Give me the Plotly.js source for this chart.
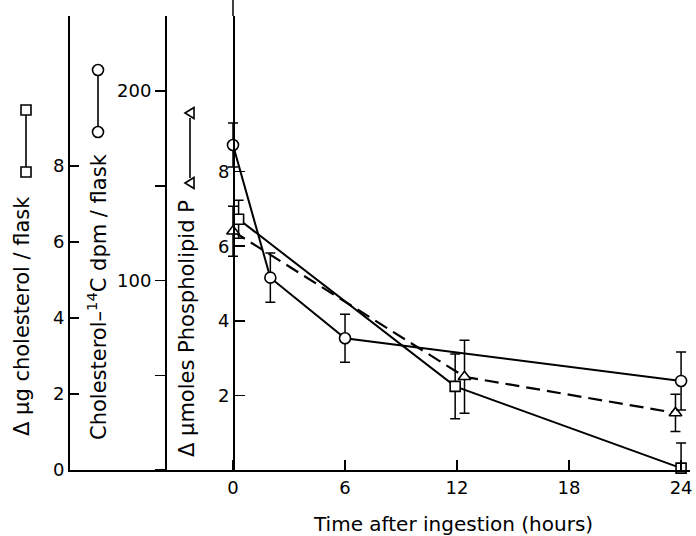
<!DOCTYPE html>
<html>
<head>
<meta charset="utf-8">
<script src="https://cdn.plot.ly/plotly-3.0.1.min.js"></script>
<style>html,body{margin:0;padding:0;background:#fff;}#chart{width:696px;height:536px;}</style>
</head>
<body>
<div id="chart"></div>
<script>
// ---- data ----
const xTicks = [0, 6, 12, 18, 24];

// Cholesterol-14C dpm / flask (open circles, solid line)
const hoursCircle = [0, 2, 6, 24];
const dpm = [171.5, 101.5, 69.5, 47];
const dpmErr = [11.6, 13, 12.7, 15.3];

// Δ µg cholesterol / flask (open squares, solid line)
const hoursSquare = [0.3, 11.9, 24];
const chol = [6.6, 2.2, 0.05];
const cholErr = [0.5, 0.85, 0.66];

// Δ µmoles phospholipid P (open triangles, dashed line)
const hoursTri = [0, 12.4, 23.7];
const phos = [6.4, 2.5, 1.53];
const phosErr = [0.67, 0.98, 0.5];

const cholTicks = [0, 2, 4, 6, 8];
const dpmTicks = [100, 200];
const dpmMinorStep = 50;
const phosTicks = [2, 4, 6, 8];

// ---- layout geometry (pixels) ----
const W = 696, H = 536;
const L = 68, R = 690, T = 16, B = 470;
const pw = R - L, ph = B - T;
const px = x => (x - L) / pw;
const py = y => (B - y) / ph;
const FONT = 'DejaVu Sans';

const errStyle = (arr) => ({type: 'data', array: arr, visible: true, color: 'black', thickness: 1.5, width: 5});
const mk = (sym, size) => ({symbol: sym, size: size, color: 'white', line: {color: 'black', width: 1.6}});

const traces = [
  {x: hoursTri, y: phos, yaxis: 'y', type: 'scatter', mode: 'lines+markers',
   line: {color: 'black', width: 2.2, dash: '14px,7px'}, marker: mk('triangle-up', 11),
   error_y: errStyle(phosErr), cliponaxis: false, showlegend: false},
  {x: hoursSquare, y: chol, yaxis: 'y3', type: 'scatter', mode: 'lines+markers',
   line: {color: 'black', width: 2}, marker: mk('square', 10),
   error_y: errStyle(cholErr), cliponaxis: false, showlegend: false},
  {x: hoursCircle, y: dpm, yaxis: 'y2', type: 'scatter', mode: 'lines+markers',
   line: {color: 'black', width: 2}, marker: mk('circle', 11),
   error_y: errStyle(dpmErr), cliponaxis: false, showlegend: false}
];

const hpp = 18.67; // px per hour
const xmin = -(233 - L) / hpp, xmax = xmin + pw / hpp;

const tickFont = {family: FONT, size: 18, color: 'black'};
const layout = {
  width: W, height: H,
  margin: {l: L, r: W - R, t: T, b: H - B},
  paper_bgcolor: 'white', plot_bgcolor: 'rgba(0,0,0,0)',
  showlegend: false,
  xaxis: {range: [xmin, xmax], showgrid: false, zeroline: false, showline: true, linecolor: 'black', linewidth: 2,
          ticks: 'inside', ticklen: 10, tickwidth: 1.5, tickcolor: 'black', tickvals: xTicks,
          tickfont: tickFont, fixedrange: true},
  yaxis: {range: [0, ph / 37.3], anchor: 'free', position: px(233), showgrid: false, zeroline: false,
          showline: true, linecolor: 'black', linewidth: 1.5, ticks: 'inside', ticklen: 10, tickwidth: 1.5,
          tickcolor: 'black', tickvals: phosTicks, tickfont: tickFont},
  yaxis2: {range: [0, ph / 1.895], overlaying: 'y', anchor: 'free', position: px(165), side: 'left',
           showgrid: false, zeroline: false, showline: true, linecolor: 'black', linewidth: 1.5,
           ticks: 'outside', ticklen: 10, tickwidth: 1.5, tickcolor: 'black', tickvals: dpmTicks,
           minor: {dtick: dpmMinorStep, tick0: 0, ticks: 'outside', ticklen: 10, tickwidth: 1.5, tickcolor: 'black', showgrid: false},
           tickfont: tickFont},
  yaxis3: {range: [0, ph / 38], overlaying: 'y', anchor: 'free', position: 0, side: 'left',
           showgrid: false, zeroline: false, showline: true, linecolor: 'black', linewidth: 1.5,
           ticks: 'inside', ticklen: 9, tickwidth: 1.5, tickcolor: 'black', tickvals: cholTicks,
           tickfont: tickFont},
  annotations: [
    {text: 'Δ μg cholesterol / flask', x: px(22), y: py(316), xref: 'paper', yref: 'paper', textangle: -90,
     showarrow: false, xanchor: 'center', yanchor: 'middle', font: {family: FONT, size: 21, color: 'black'}},
    {text: 'Cholesterol–<sup>14</sup>C dpm / flask', x: px(97), y: py(297), xref: 'paper', yref: 'paper', textangle: -90,
     showarrow: false, xanchor: 'center', yanchor: 'middle', font: {family: FONT, size: 21, color: 'black'}},
    {text: 'Δ μmoles Phospholipid P', x: px(187), y: py(329), xref: 'paper', yref: 'paper', textangle: -90,
     showarrow: false, xanchor: 'center', yanchor: 'middle', font: {family: FONT, size: 21, color: 'black'}},
    {text: 'Time after ingestion (hours)', x: px(453), y: py(524), xref: 'paper', yref: 'paper',
     showarrow: false, xanchor: 'center', yanchor: 'middle', font: {family: FONT, size: 20, color: 'black'}}
  ],
  shapes: []
};

const S = layout.shapes;
const ln = {color: 'black', width: 1.6};
// inner axis continues to the top edge
S.push({type: 'line', xref: 'paper', yref: 'paper', x0: px(233), x1: px(233), y0: 1, y1: py(0), line: {color: 'black', width: 1.5}});
// key: squares
S.push({type: 'line', xref: 'paper', yref: 'paper', x0: px(26), x1: px(26), y0: py(115), y1: py(167), line: ln});
[110, 172].forEach(c => S.push({type: 'rect', xref: 'paper', yref: 'paper', x0: px(21), x1: px(31), y0: py(c + 5), y1: py(c - 5), line: ln, fillcolor: 'white'}));
// key: circles
S.push({type: 'line', xref: 'paper', yref: 'paper', x0: px(98), x1: px(98), y0: py(75.5), y1: py(126.5), line: ln});
[70, 132].forEach(c => S.push({type: 'circle', xref: 'paper', yref: 'paper', x0: px(92.5), x1: px(103.5), y0: py(c + 5.5), y1: py(c - 5.5), line: ln, fillcolor: 'white'}));
// key: triangles (rotated with the text)
S.push({type: 'line', xref: 'paper', yref: 'paper', x0: px(190), x1: px(190), y0: py(118), y1: py(178), line: ln});
[113, 183].forEach(c => {
  const p = `M${px(185)},${py(c)} L${px(194)},${py(c - 5.5)} L${px(194)},${py(c + 5.5)} Z`;
  S.push({type: 'path', xref: 'paper', yref: 'paper', path: p, line: ln, fillcolor: 'white'});
});

Plotly.newPlot('chart', traces, layout, {staticPlot: true, displayModeBar: false});
</script>
</body>
</html>
